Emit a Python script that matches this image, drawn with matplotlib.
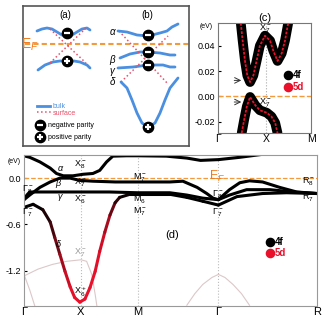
import numpy as np
import matplotlib.pyplot as plt
from matplotlib.collections import LineCollection
from matplotlib.colors import LinearSegmentedColormap

plt.rcParams['font.family'] = ['Liberation Sans', 'DejaVu Sans']
plt.rcParams['mathtext.fontset'] = 'custom'
plt.rcParams['mathtext.rm'] = 'Liberation Sans'
plt.rcParams['mathtext.it'] = 'Liberation Sans:italic'

# ---------------- panel (d): bands along Γ-X-M-Γ-R
d_kticks = [0, 1, 2, 3.414, 5.146]
d_klabels = ['Γ', 'X', 'M', 'Γ', 'R']

alpha_k = [0, 0.1, 0.28, 0.46, 0.57, 0.69, 0.86, 1.04, 1.21, 1.33, 1.45, 1.56, 1.8, 2.0, 2.5, 2.86, 3.1, 3.414, 3.79, 4.2]
alpha_E = [0.29, 0.27, 0.21, 0.13, 0.06, 0.03, 0.03, 0.05, 0.06, 0.10, 0.21, 0.285, 0.29, 0.29, 0.285, 0.26, 0.23, 0.24, 0.27, 0.31]

beta_k = [0, 0.1, 0.28, 0.46, 0.63, 0.81, 0.98, 1.21, 1.6, 2.0, 2.56, 2.79, 3.04, 3.21, 3.32, 3.414]
beta_E = [-0.28, -0.22, -0.12, -0.05, 0.0, 0.0, -0.03, -0.04, -0.05, -0.05, -0.05, -0.04, -0.12, -0.2, -0.26, -0.28]

gamma_k = [0, 0.05, 0.1, 0.5, 1.0, 1.5, 2.0, 2.56, 2.86, 3.14, 3.414]
gamma_E = [-0.28, -0.22, -0.18, -0.18, -0.18, -0.18, -0.19, -0.19, -0.22, -0.26, -0.28]

delta_k = [0, 0.16, 0.33, 0.46, 0.54, 0.63, 0.72, 0.81, 0.89, 0.98, 1.07, 1.16, 1.25, 1.33,
           1.42, 1.51, 1.60, 1.68, 1.86, 2.0, 2.56, 2.86, 3.14, 3.414]
delta_E = [-0.38, -0.34, -0.41, -0.57, -0.77, -0.99, -1.21, -1.41, -1.55, -1.61, -1.57, -1.42, -1.21, -0.95,
           -0.70, -0.48, -0.32, -0.25, -0.21, -0.21, -0.21, -0.25, -0.30, -0.35]
delta_5d = [0, 0, 0.05, 0.2, 0.4, 0.6, 0.8, 0.95, 1, 1, 1, 1, 1, 0.95,
            0.85, 0.6, 0.3, 0.1, 0, 0, 0, 0, 0, 0]

r1_k = [3.414, 3.61, 3.79, 3.96, 4.19, 4.49, 4.79, 5.146]
r1_E = [-0.28, -0.15, -0.06, -0.035, -0.05, -0.12, -0.18, -0.2]
r2_k = [3.414, 3.61, 3.91, 4.32, 4.72, 5.146]
r2_E = [-0.28, -0.22, -0.15, -0.15, -0.18, -0.2]
r3_k = [3.414, 3.74, 4.19, 4.61, 5.146]
r3_E = [-0.35, -0.24, -0.2, -0.19, -0.2]

# faint deep bands
f1_k = [0, 0.25, 0.5, 0.75, 1.0, 1.1, 1.19, 1.25, 1.28]
f1_E = [-1.27, -1.18, -1.12, -1.08, -1.06, -1.08, -1.25, -1.51, -1.66]
f2_k = [0, 0.1, 0.19]
f2_E = [-1.25, -1.45, -1.66]
f3_k = [2.86, 3.0, 3.14, 3.3, 3.414, 3.53, 3.67, 3.82, 3.96]
f3_E = [-1.65, -1.5, -1.38, -1.29, -1.25, -1.29, -1.38, -1.5, -1.65]

# ---------------- panel (c): zoom near X
c_kticks = [0, 1.03, 2]
c_klabels = ['Γ', 'X', 'M']
c_up_k = [0.49, 0.53, 0.58, 0.63, 0.69, 0.76, 0.83, 0.90, 1.01, 1.12, 1.19, 1.28, 1.37, 1.44, 1.51]
c_up_E = [0.058, 0.044, 0.028, 0.0165, 0.0113, 0.0165, 0.028, 0.040, 0.048, 0.044, 0.036, 0.028, 0.034, 0.044, 0.058]
c_lo_k = [0.51, 0.56, 0.62, 0.69, 0.80, 0.90, 1.05, 1.15, 1.23, 1.28]
c_lo_E = [-0.029, -0.019, -0.008, -0.0005, -0.007, -0.011, -0.013, -0.016, -0.021, -0.029]

# ---------------- panel (a)/(b): schematic curves
a_up_x = [37, 42, 47, 52, 57, 62, 67, 72, 77, 82, 87, 90]
a_up_y = [31, 29, 28, 29, 32, 35, 36, 35, 32, 29, 28, 30]
a_lo_x = [38, 45, 53, 60, 67, 74, 80, 87, 90]
a_lo_y = [70, 65, 62, 61, 61, 61, 62, 65, 68]
b_al_x = [118, 127, 137, 148, 160, 167, 172, 178]
b_al_y = [31, 32, 35, 36, 33, 31, 27, 24]
b_be_x = [120, 130, 140, 148, 160, 170, 175]
b_be_y = [58, 54, 52, 52, 53, 55, 55]
b_ga_x = [118, 133, 148, 163, 170, 175]
b_ga_y = [68, 67, 65, 65, 67, 67]
b_de_x = [121, 127, 132, 137, 142, 148, 155, 160, 165, 170, 178]
b_de_y = [82, 88, 100, 113, 123, 127, 123, 113, 100, 88, 78]

blue = '#4a8fe0'
sred = '#e8506a'
orange = '#f39a3c'

fig = plt.figure(figsize=(3.24, 3.22), dpi=100)

# ======== schematic box
axs = fig.add_axes([23 / 324, 1 - 146 / 322, 166 / 324, 140 / 322])
axs.set_xlim(23, 189)
axs.set_ylim(146, 6)
axs.set_xticks([])
axs.set_yticks([])
for s in axs.spines.values():
    s.set_color('#555555')
    s.set_linewidth(1.2)

axs.plot([25, 189], [44, 44], color=orange, ls='--', lw=1.5, dashes=(2.5, 1.5))
axs.text(21, 45, r'E$_F$', color='#f07a1a', fontsize=10, ha='left', va='center',
         clip_on=False, zorder=7)

for xs, ys in [(a_up_x, a_up_y), (a_lo_x, a_lo_y), (b_al_x, b_al_y), (b_be_x, b_be_y),
               (b_ga_x, b_ga_y), (b_de_x, b_de_y)]:
    axs.plot(xs, ys, color=blue, lw=2, solid_capstyle='round')

# surface states
axs.plot([50, 86], [29, 63], color=sred, ls=':', lw=1.1)
axs.plot([50, 86], [63, 28], color=sred, ls=':', lw=1.1)
axs.plot([119, 168], [31, 84], color=sred, ls=':', lw=1.1)
axs.plot([121, 168], [82, 36], color=sred, ls=':', lw=1.1)

minus_x = [67, 148, 148, 148, 40]
minus_y = [33, 35, 52, 65, 125]
plus_x = [67, 148, 40]
plus_y = [61, 127, 137]
axs.scatter(minus_x + plus_x, minus_y + plus_y, s=55, color='black', zorder=5)
axs.scatter(minus_x, minus_y, s=22, marker='_', color='white', linewidths=1.6, zorder=6)
axs.scatter(plus_x, plus_y, s=22, marker='+', color='white', linewidths=1.6, zorder=6)

axs.text(65, 15, '(a)', fontsize=7, ha='center', va='center')
axs.text(147, 15, '(b)', fontsize=7, ha='center', va='center')
for lab, yy in zip(['α', 'β', 'γ', 'δ'], [32, 60, 71, 82]):
    axs.text(112, yy, lab, fontsize=7, style='italic', ha='center', va='center')

axs.plot([37, 50], [106, 106], color=blue, lw=2)
axs.text(53, 106, 'bulk', color=blue, fontsize=5, va='center')
axs.plot([37, 52], [112, 112], color=sred, ls=':', lw=1.1)
axs.text(53, 113, 'surface', color=sred, fontsize=5, va='center')
axs.text(48, 125, 'negative parity', fontsize=5, va='center')
axs.text(48, 137, 'positive parity', fontsize=5, va='center')

# ======== panel (c)
axc = fig.add_axes([218 / 324, 1 - 133 / 322, 93 / 324, 110 / 322])
axc.set_xlim(0, 2)
axc.set_ylim(-0.029, 0.058)
axc.axvline(c_kticks[1], color='#aaaaaa', ls=':', lw=0.8)
axc.axhline(0, color=orange, ls='--', lw=1.0)
for k, E in [(c_up_k, c_up_E), (c_lo_k, c_lo_E)]:
    axc.plot(k, E, color='black', lw=7, solid_capstyle='round', solid_joinstyle='round')
    axc.plot(k, E, color='#e8102a', lw=1.3, ls=(0, (1.5, 0.8)))
axc.set_xticks(c_kticks, c_klabels, fontsize=7.5)
axc.set_yticks([0.04, 0.02, 0.0, -0.02], ['0.04', '0.02', '0.00', '-0.02'], fontsize=6.5)
axc.tick_params(axis='x', length=0, pad=1)
axc.tick_params(axis='y', length=2, direction='in', pad=2)
for s in axc.spines.values():
    s.set_color('#777777')
    s.set_linewidth(0.8)
axc.set_title('(c)', fontsize=8, pad=1.5)
axc.text(-0.06, 0.97, '(eV)', transform=axc.transAxes, fontsize=5, ha='right', va='center')
axc.text(1.01, 0.0535, r'X$_7^-$', fontsize=6.5, ha='center', va='center')
axc.text(1.01, -0.005, r'X$_7^-$', fontsize=6.5, ha='center', va='center')
axc.annotate('', xy=(0.56, 0.0126), xytext=(0.29, 0.0126),
             arrowprops=dict(arrowstyle='->', color='#333333', lw=0.7))
axc.annotate('', xy=(0.56, -0.0045), xytext=(0.29, -0.0045),
             arrowprops=dict(arrowstyle='->', color='#333333', lw=0.7))
axc.scatter([1.5], [0.0165], s=35, color='black')
axc.scatter([1.5], [0.007], s=35, color='#e8102a')
axc.text(1.6, 0.0165, '4f', fontsize=7, weight='bold', va='center')
axc.text(1.6, 0.007, '5d', fontsize=7, weight='bold', color='#e8102a', va='center')

# ======== panel (d)
axd = fig.add_axes([24 / 324, 1 - 306 / 322, 293 / 324, 151 / 322])
axd.set_xlim(0, d_kticks[-1])
axd.set_ylim(-1.66, 0.30)
for kv in d_kticks[1:4]:
    axd.axvline(kv, color='#bbbbbb', ls=':', lw=0.8)
axd.axhline(0, color=orange, ls='--', lw=0.9)

for k, E in [(f1_k, f1_E), (f2_k, f2_E), (f3_k, f3_E)]:
    axd.plot(k, E, color='#dcc8c8', lw=0.8)

for k, E in [(alpha_k, alpha_E), (beta_k, beta_E), (gamma_k, gamma_E),
             (r1_k, r1_E), (r2_k, r2_E), (r3_k, r3_E)]:
    axd.plot(k, E, color='black', lw=2.2, solid_capstyle='round', solid_joinstyle='round')

cmap = LinearSegmentedColormap.from_list('fd', ['black', '#e8102a'])
pts = np.column_stack([delta_k, delta_E])
segs = np.stack([pts[:-1], pts[1:]], axis=1)
w = np.array(delta_5d)
lc = LineCollection(segs, colors=cmap((w[:-1] + w[1:]) / 2), lw=2.2, capstyle='round', joinstyle='round')
axd.add_collection(lc)

axd.set_xticks(d_kticks, d_klabels, fontsize=8)
axd.set_yticks([0.0, -0.6, -1.2], ['0.0', '-0.6', '-1.2'], fontsize=6.5)
axd.tick_params(axis='x', length=0, pad=1)
axd.tick_params(axis='y', length=2, direction='in', pad=2)
for s in axd.spines.values():
    s.set_color('#999999')
    s.set_linewidth(0.8)
axd.text(-0.01, 0.96, '(eV)', transform=axd.transAxes, fontsize=5, ha='right', va='center')

d_labels = [
    ('α', 0.63, 0.13, 'black', True), ('β', 0.6, -0.065, 'black', True),
    ('γ', 0.63, -0.245, 'black', True), ('δ', 0.6, -0.86, 'black', True),
    (r'X$_8^-$', 0.98, 0.17, 'black', False), (r'X$_7^-$', 0.98, -0.065, 'black', False),
    (r'X$_6^-$', 0.98, -0.28, 'black', False), (r'M$_7^-$', 2.03, 0.0, 'black', False),
    (r'M$_6^-$', 2.03, -0.28, 'black', False), (r'M$_7^-$', 2.03, -0.44, 'black', False),
    (r'Γ$_8^-$', 0.07, -0.15, 'black', False), (r'Γ$_7^-$', 0.07, -0.45, 'black', False),
    (r'X$_7^-$', 0.98, -0.97, '#999999', False), (r'X$_6^+$', 0.98, -1.48, 'black', False),
    (r'Γ$_8^-$', 3.4, -0.22, 'black', False), (r'Γ$_7^-$', 3.4, -0.45, 'black', False),
    (r'R$_8^-$', 5.0, -0.05, 'black', False), (r'R$_7^-$', 5.0, -0.26, 'black', False),
]
for lab, kx, ey, col, it in d_labels:
    axd.text(kx, ey, lab, fontsize=6.5, color=col, ha='center', va='center',
             style='italic' if it else 'normal')
axd.text(3.4, 0.02, r'E$_F$', fontsize=9, color='#f07a1a', ha='center', va='center')
axd.text(2.6, -0.74, '(d)', fontsize=8, ha='center', va='center')
axd.scatter([4.32], [-0.83], s=35, color='black')
axd.scatter([4.32], [-0.97], s=35, color='#e8102a')
axd.text(4.4, -0.83, '4f', fontsize=7, weight='bold', va='center')
axd.text(4.4, -0.97, '5d', fontsize=7, weight='bold', color='#e8102a', va='center')

fig.savefig('out.png', dpi=100)
